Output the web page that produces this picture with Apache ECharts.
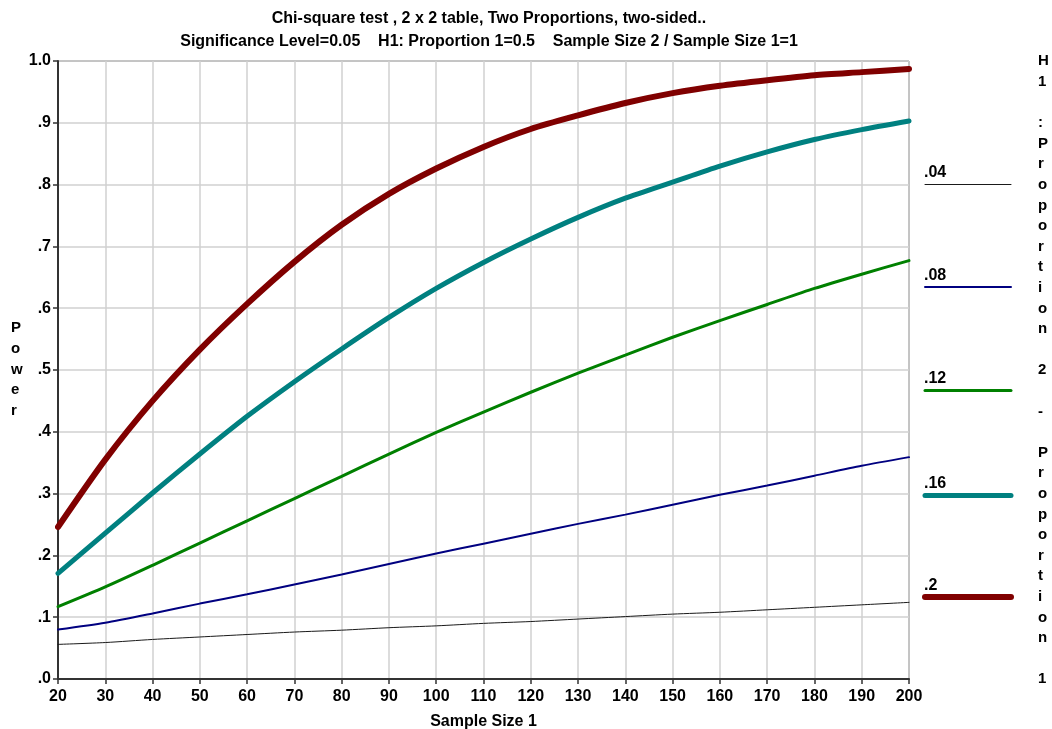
<!DOCTYPE html>
<html>
<head>
<meta charset="utf-8">
<script src="https://cdn.jsdelivr.net/npm/echarts@6/dist/echarts.min.js"></script>
<style>
  html, body { margin: 0; padding: 0; background: #fff; }
  #chart { width: 1052px; height: 729px; }
</style>
</head>
<body>
<div id="chart"></div>
<script>
// sample sizes (x axis)
const sampleSizes = [20, 30, 40, 50, 60, 70, 80, 90, 100, 110, 120, 130, 140, 150, 160, 170, 180, 190, 200];

// power per difference Proportion 2 - Proportion 1
const power04 = [0.056, 0.059, 0.064, 0.068, 0.072, 0.076, 0.079, 0.083, 0.086, 0.090, 0.093, 0.097, 0.101, 0.105, 0.108, 0.112, 0.116, 0.120, 0.124];
const power08 = [0.080, 0.091, 0.106, 0.122, 0.137, 0.153, 0.169, 0.186, 0.203, 0.219, 0.235, 0.251, 0.266, 0.282, 0.298, 0.313, 0.329, 0.345, 0.359];
const power12 = [0.117, 0.149, 0.184, 0.220, 0.256, 0.292, 0.328, 0.364, 0.399, 0.432, 0.464, 0.495, 0.524, 0.553, 0.580, 0.606, 0.632, 0.655, 0.677];
const power16 = [0.171, 0.236, 0.301, 0.364, 0.425, 0.481, 0.534, 0.585, 0.632, 0.674, 0.712, 0.747, 0.778, 0.804, 0.830, 0.853, 0.873, 0.889, 0.903];
const power20 = [0.246, 0.355, 0.450, 0.533, 0.607, 0.675, 0.735, 0.785, 0.826, 0.861, 0.890, 0.912, 0.932, 0.948, 0.960, 0.969, 0.977, 0.982, 0.987];

const diffLabels = ['.04', '.08', '.12', '.16', '.2'];
const seriesValues = [power04, power08, power12, power16, power20];
const colors = ['#1a1a1a', '#000080', '#008000', '#008080', '#800000'];
const widths = [1, 2, 3, 5, 6];

const titleLines = [
  'Chi-square test , 2 x 2 table, Two Proportions, two-sided..',
  'Significance Level=0.05    H1: Proportion 1=0.5    Sample Size 2 / Sample Size 1=1'
];
const rightTitle = 'H1 :Proportion 2 - Proportion 1';

const FONT = '"Liberation Sans", Arial, sans-serif';

const chart = echarts.init(document.getElementById('chart'), null, { renderer: 'canvas' });

const series = seriesValues.map((vals, i) => ({
  name: diffLabels[i],
  type: 'line',
  data: sampleSizes.map((x, j) => [x, vals[j]]),
  showSymbol: false,
  smooth: 0.25,
  lineStyle: { color: colors[i], width: widths[i], cap: 'round' },
  itemStyle: { color: colors[i] },
  animation: false,
  z: 2 + i
}));

// legend drawn on the right: label above a line sample
const legendTop = [172, 275, 378, 483, 585];
const legendGraphics = [];
diffLabels.forEach((lab, i) => {
  const ly = legendTop[i] + 12 + (widths[i] % 2 ? 0.5 : 0);
  legendGraphics.push({
    type: 'text', left: 924, top: legendTop[i] - 7,
    style: { text: lab, font: 'bold 16px ' + FONT, fill: '#000' }
  });
  legendGraphics.push({
    type: 'line', shape: { x1: 925, y1: ly, x2: 1011, y2: ly },
    style: { stroke: colors[i], lineWidth: widths[i], lineCap: 'round' }
  });
});

const option = {
  backgroundColor: '#fff',
  animation: false,
  title: [
    {
      text: titleLines[0] + '\n' + titleLines[1],
      left: 484, top: 2, textAlign: 'center',
      textStyle: { fontFamily: FONT, fontSize: 16, fontWeight: 'bold', color: '#000', lineHeight: 23 }
    }
  ],
  grid: {
    left: 58, right: 143, top: 61, bottom: 50,
    outerBoundsMode: 'none', containLabel: false,
    show: true, borderColor: '#444', borderWidth: 1, backgroundColor: 'transparent'
  },
  xAxis: {
    type: 'value', min: 20, max: 200, interval: 10,
    name: 'Sample Size 1', nameLocation: 'middle', nameGap: 35,
    nameTextStyle: { fontFamily: FONT, fontSize: 16, fontWeight: 'bold', color: '#000' },
    axisLine: { show: true, lineStyle: { color: '#333', width: 2 } },
    axisTick: { show: true, length: 5, lineStyle: { color: '#333', width: 1.5 } },
    axisLabel: { fontFamily: FONT, fontSize: 16, fontWeight: 'bold', color: '#000', margin: 10 },
    splitLine: { show: true, lineStyle: { color: '#d0d0d0', width: 1.5 } }
  },
  yAxis: {
    type: 'value', min: 0, max: 1, interval: 0.1,
    axisLine: { show: true, lineStyle: { color: '#333', width: 2 } },
    axisTick: { show: true, length: 5, lineStyle: { color: '#333', width: 1.5 } },
    axisLabel: {
      fontFamily: FONT, fontSize: 16, fontWeight: 'bold', color: '#000', margin: 7,
      formatter: v => (Math.abs(v - 1) < 1e-9 ? '1.0' : v.toFixed(1).replace(/^0/, ''))
    },
    splitLine: { show: true, lineStyle: { color: '#d0d0d0', width: 1.5 } }
  },
  graphic: [
    {
      type: 'text', left: 11, top: 318,
      style: {
        text: 'Power'.split('').join('\n'), font: 'bold 15px ' + FONT,
        fill: '#000', lineHeight: 20.6, align: 'center', width: 12
      }
    },
    {
      type: 'text', left: 1038, top: 51,
      style: {
        text: rightTitle.split('').join('\n'), font: 'bold 15px ' + FONT,
        fill: '#000', lineHeight: 20.6, align: 'center', width: 12
      }
    }
  ].concat(legendGraphics),
  series: series
};

chart.setOption(option);
</script>
</body>
</html>
